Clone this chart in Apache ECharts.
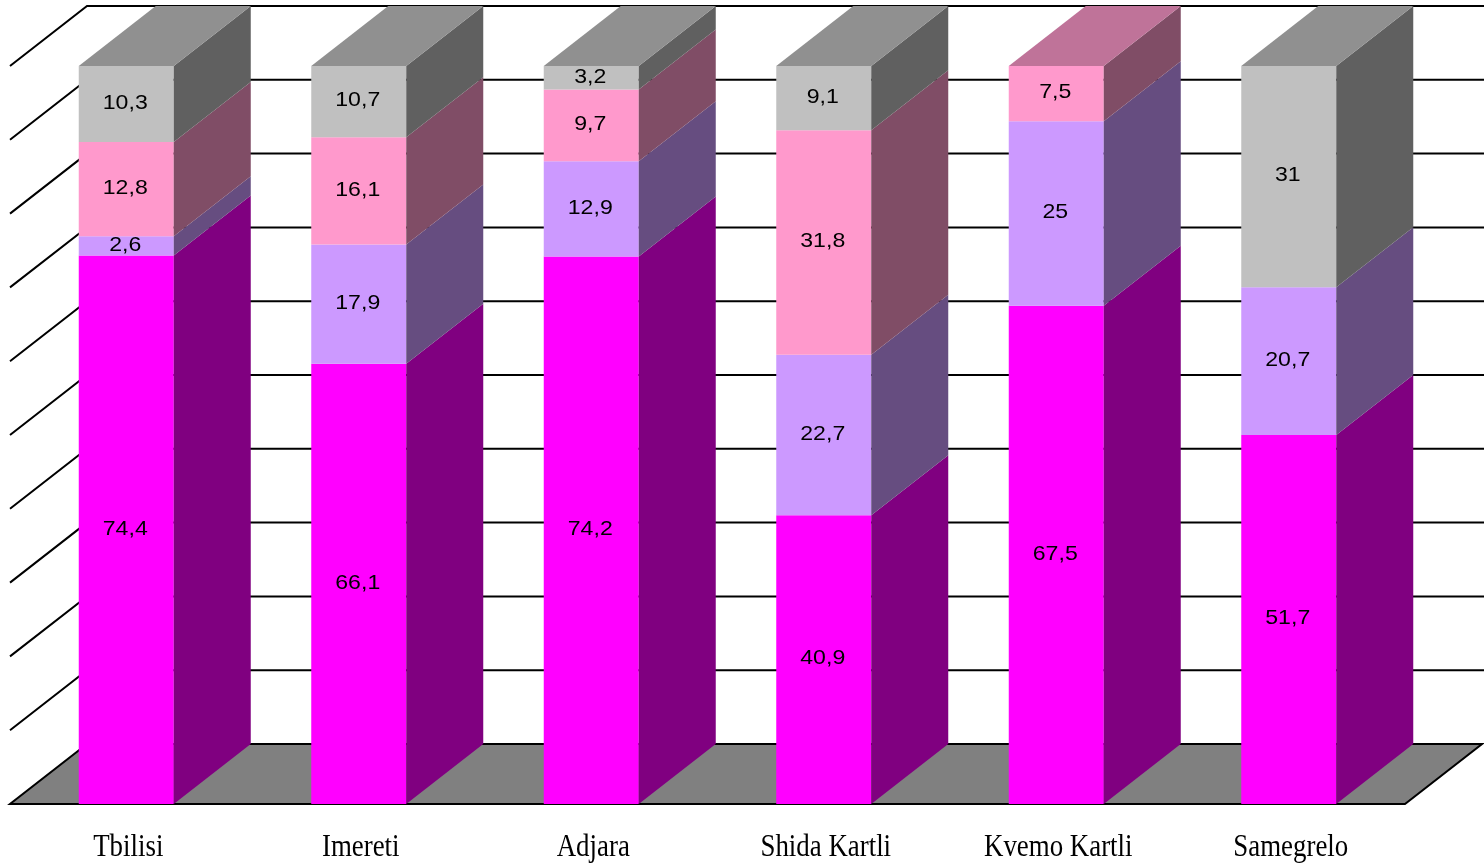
<!DOCTYPE html>
<html>
<head>
<meta charset="utf-8">
<style>
  html, body { margin: 0; padding: 0; background: #ffffff; }
  #chart { width: 1484px; height: 863px; }
</style>
<script src="https://cdn.jsdelivr.net/npm/echarts@6/dist/echarts.min.js"></script>
</head>
<body>
<div id="chart"></div>
<script>
// Regions shown along the bottom
const categories = ['Tbilisi', 'Imereti', 'Adjara', 'Shida Kartli', 'Kvemo Kartli', 'Samegrelo'];

// Stacked components, bottom to top (raw values as labelled)
const seriesMagenta = [74.4, 66.1, 74.2, 40.9, 67.5, 51.7];
const seriesLavender = [2.6, 17.9, 12.9, 22.7, 25, 20.7];
const seriesPink = [12.8, 16.1, 9.7, 31.8, 7.5, 0];
const seriesGray = [10.3, 10.7, 3.2, 9.1, 0, 31];

// Back-wall gridline values (percent)
const gridTicks = [10, 20, 30, 40, 50, 60, 70, 80, 90, 100];

// Face colours per stack layer: front, top, side
const layers = [
  { values: seriesMagenta, front: '#FF00FF', top: '#BF00BF', side: '#800080' },
  { values: seriesLavender, front: '#CC99FF', top: '#9973BF', side: '#664D80' },
  { values: seriesPink, front: '#FF99CC', top: '#BF7399', side: '#804D66' },
  { values: seriesGray, front: '#C0C0C0', top: '#909090', side: '#606060' }
];

// 3D depth offset of the oblique projection (pixels)
const DX = 77;
const DY = -60;
const BAR_W = 95;

function fmt(v) { return String(v).replace('.', ','); }

const chart = echarts.init(document.getElementById('chart'));

function renderWalls(params, api) {
  const cs = params.coordSys;
  const x0 = cs.x, x1 = cs.x + cs.width;
  const yFloor = api.coord([0, 0])[1];
  const children = [];
  // floor slab
  children.push({
    type: 'polygon',
    shape: { points: [[x0, yFloor], [x1, yFloor], [x1 + DX, yFloor + DY], [x0 + DX, yFloor + DY]] },
    style: { fill: '#808080', stroke: '#000000', lineWidth: 2 }
  });
  // side-wall diagonals and back-wall gridlines
  gridTicks.forEach(function (v) {
    const y = api.coord([0, v])[1];
    children.push({
      type: 'polyline',
      shape: { points: [[x0, y], [x0 + DX, y + DY], [x1 + DX + 2, y + DY]] },
      style: { stroke: '#000000', lineWidth: 2, fill: null }
    });
  });
  return { type: 'group', children: children };
}

function renderBar(params, api) {
  const i = api.value(0);
  const total = layers.reduce(function (s, l) { return s + l.values[i]; }, 0);
  const children = [];
  let cum = 0;
  let topLayer = null, topY = 0, x1 = 0, x2 = 0;
  layers.forEach(function (l) {
    const raw = l.values[i];
    if (!raw) return;
    const lo = cum / total * 100;
    cum += raw;
    const hi = cum / total * 100;
    const pLo = api.coord([i, lo]);
    const pHi = api.coord([i, hi]);
    x1 = pLo[0] - BAR_W / 2;
    x2 = pLo[0] + BAR_W / 2;
    children.push({
      type: 'rect',
      shape: { x: x1, y: pHi[1], width: BAR_W, height: pLo[1] - pHi[1] },
      style: { fill: l.front }
    });
    children.push({
      type: 'polygon',
      shape: { points: [[x2, pLo[1]], [x2, pHi[1]], [x2 + DX, pHi[1] + DY], [x2 + DX, pLo[1] + DY]] },
      style: { fill: l.side }
    });
    children.push({
      type: 'text',
      x: pLo[0] - 1, y: (pLo[1] + pHi[1]) / 2 - 1,
      scaleX: 1.1,
      style: {
        text: fmt(raw), fill: '#000000',
        font: '21px "Liberation Sans", Arial, sans-serif',
        align: 'center', verticalAlign: 'middle'
      }
    });
    topLayer = l; topY = pHi[1];
  });
  if (topLayer) {
    children.push({
      type: 'polygon',
      shape: { points: [[x1, topY], [x2, topY], [x2 + DX, topY + DY], [x1 + DX, topY + DY]] },
      style: { fill: topLayer.top }
    });
  }
  // category name under the bar
  const base = api.coord([i, 0]);
  children.push({
    type: 'text',
    x: base[0] + 2, y: base[1] + 44,
    scaleX: 0.84,
    style: {
      text: categories[i], fill: '#000000',
      font: '32px "Liberation Serif", "Times New Roman", serif',
      align: 'center', verticalAlign: 'middle'
    }
  });
  return { type: 'group', children: children };
}

chart.setOption({
  animation: false,
  backgroundColor: '#ffffff',
  grid: { left: 10, right: 79, top: 66, bottom: 59 },
  xAxis: {
    type: 'category',
    data: categories,
    axisLine: { show: false },
    axisTick: { show: false },
    axisLabel: { show: false },
    splitLine: { show: false }
  },
  yAxis: {
    type: 'value',
    min: 0, max: 100, interval: 10,
    axisLine: { show: false },
    axisTick: { show: false },
    axisLabel: { show: false },
    splitLine: { show: false }
  },
  series: [
    {
      type: 'custom',
      name: 'walls',
      renderItem: renderWalls,
      data: [[0, 0]],
      silent: true,
      z: 1
    },
    {
      type: 'custom',
      name: 'bars',
      renderItem: renderBar,
      data: categories.map(function (c, i) { return [i]; }),
      encode: { x: 0 },
      silent: true,
      clip: false,
      z: 2
    }
  ]
});
</script>
</body>
</html>
